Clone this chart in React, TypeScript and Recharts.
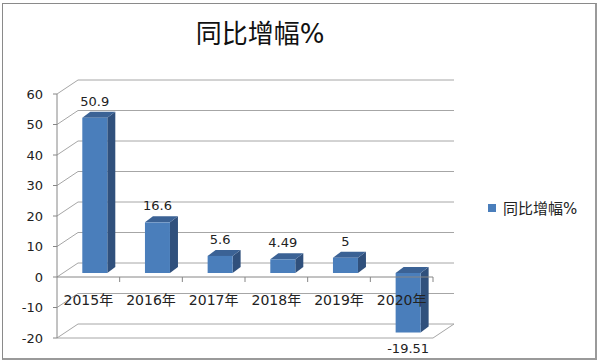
import { BarChart, Bar, XAxis, YAxis, CartesianGrid, ReferenceLine } from "recharts";

const years = ["2015年", "2016年", "2017年", "2018年", "2019年", "2020年"];
const growth = [50.9, 16.6, 5.6, 4.49, 5, -19.51];
const yTicks = [-20, -10, 0, 10, 20, 30, 40, 50, 60];
const seriesName = "同比增幅%";

const data = years.map((year, i) => ({ year, growth: growth[i] }));

const FONT = '"DejaVu Sans", "Noto Sans CJK SC", sans-serif';
const WALL_DX = 21;
const WALL_DY = -14;
const BAR_DX = 8;
const BAR_DY = -6;
const GRID = "#a6a6a6";

// back wall + left side wall lines for each grid level
const WallLine = (props: any) => {
  const { x1, x2, y1, index } = props;
  const isFloor = index === 0;
  return (
    <g>
      <polyline
        points={`${x1},${y1} ${x1 + WALL_DX},${y1 + WALL_DY} ${x2 + WALL_DX},${y1 + WALL_DY}`}
        fill="none"
        stroke={GRID}
        strokeWidth={1}
      />
      {isFloor && (
        <polyline
          points={`${x1},${y1} ${x2},${y1} ${x2 + WALL_DX},${y1 + WALL_DY}`}
          fill="none"
          stroke={GRID}
          strokeWidth={1}
        />
      )}
    </g>
  );
};

const Bar3D = (props: any) => {
  const { x, y, width, height, payload } = props;
  const v = payload.growth;
  const top = Math.min(y, y + height);
  const bottom = Math.max(y, y + height);
  const fx = x + 6.5;
  const ft = top - 4;
  const fb = bottom - 4;
  const fw = width;
  const cx = fx + fw / 2;
  return (
    <g>
      {/* side face */}
      <polygon
        points={`${fx + fw},${ft} ${fx + fw + BAR_DX},${ft + BAR_DY} ${fx + fw + BAR_DX},${fb + BAR_DY} ${fx + fw},${fb}`}
        fill="#30507c"
      />
      {/* top face */}
      <polygon
        points={`${fx},${ft} ${fx + BAR_DX},${ft + BAR_DY} ${fx + fw + BAR_DX},${ft + BAR_DY} ${fx + fw},${ft}`}
        fill="#3b6295"
      />
      <rect x={fx} y={ft} width={fw} height={fb - ft} fill="#4a7ebb" />
      <text
        x={cx}
        y={v >= 0 ? ft + BAR_DY - 6 : fb + 20}
        textAnchor="middle"
        fontSize={13}
        fontFamily={FONT}
        fill="#222"
      >
        {v}
      </text>
    </g>
  );
};

const YearTick = (props: any) => {
  const { x, y, payload } = props;
  const zeroY = y - 61;
  return (
    <g>
      <line x1={x + payload.offset} x2={x + payload.offset} y1={zeroY} y2={zeroY + 5} stroke="#868686" />
      <text x={x} y={y - 33} textAnchor="middle" fontSize={14} fontFamily={FONT} fill="#222">
        {payload.value}
      </text>
    </g>
  );
};

export default function App() {
  return (
    <div style={{ position: "absolute", left: 0, top: 0, width: 600, height: 363, background: "#fff" }}>
      <div
        style={{
          position: "absolute",
          left: 2,
          top: 3,
          width: 592,
          height: 354,
          borderTop: "1px solid #8a8a8a",
          borderLeft: "1px solid #8a8a8a",
          borderRight: "2px solid #9a9a9a",
          borderBottom: "2px solid #9a9a9a",
        }}
      />
      <div
        style={{
          position: "absolute",
          left: 0,
          top: 17,
          width: 520,
          textAlign: "center",
          fontFamily: FONT,
          fontSize: 26,
          lineHeight: "34px",
          color: "#111",
        }}
      >
        {seriesName}
      </div>
      <div style={{ position: "absolute", left: 0, top: 0 }}>
        <BarChart
          width={600}
          height={363}
          data={data}
          margin={{ top: 94, right: 167, left: 12, bottom: 5 }}
          barCategoryGap="30%"
        >
          <CartesianGrid vertical={false} horizontal={<WallLine />} />
          <YAxis
            domain={[-20, 60]}
            ticks={yTicks}
            width={45}
            interval={0}
            axisLine={{ stroke: "#868686" }}
            tickLine={{ stroke: "#868686" }}
            tickSize={4}
            tickMargin={10}
            tick={{ fontSize: 13, fontFamily: FONT, fill: "#222" }}
          />
          <ReferenceLine y={0} stroke="#868686" />
          <Bar dataKey="growth" name={seriesName} shape={<Bar3D />} isAnimationActive={false} />
          <XAxis
            dataKey="year"
            height={20}
            axisLine={false}
            tickLine={false}
            tickSize={0}
            tickMargin={0}
            interval={0}
            tick={<YearTick />}
          />
        </BarChart>
      </div>
      <div
        style={{
          position: "absolute",
          left: 488,
          top: 197,
          display: "flex",
          alignItems: "center",
          fontFamily: FONT,
          fontSize: 15,
          color: "#222",
        }}
      >
        <span style={{ width: 8, height: 8, background: "#4a7ebb", marginRight: 7, display: "inline-block" }} />
        <span>{seriesName}</span>
      </div>
    </div>
  );
}
